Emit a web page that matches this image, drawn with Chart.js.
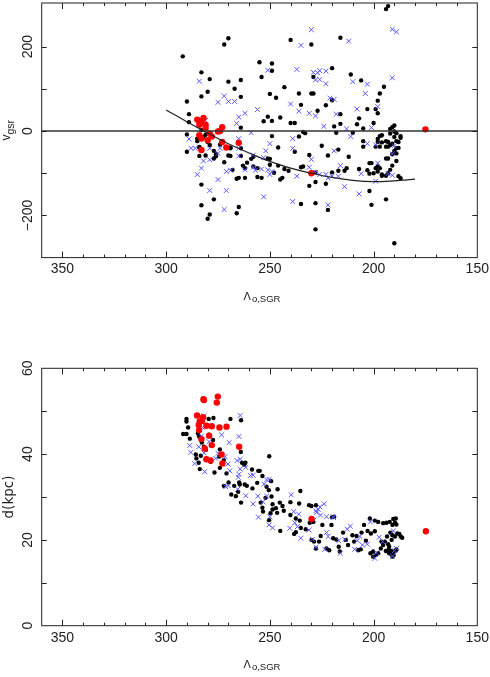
<!DOCTYPE html>
<html>
<head>
<meta charset="utf-8">
<script src="https://cdn.jsdelivr.net/npm/chart.js@4"></script>
<style>
  body { margin: 0; background: #fff; }
  canvas { position: absolute; left: 0; }
  #velChart { top: -2px; }
  #distChart { top: 340px; }
</style>
</head>
<body>
<canvas id="velChart" width="490" height="322"></canvas>
<canvas id="distChart" width="490" height="337"></canvas>
<script>
// [Lambda, v_gsr]
const velBlack = [
  [292,177],[290,70],[289,40],[289,21],[290,-8],[290,-49],[283,139],[279,123],[280,93],[283,82],
  [272,205],[270,220],[270,117],[267,100],[264,121],[264,81],[264,8],[243,104],[247,79],[240,216],
  [230,205],[255,163],[254,128],[249,160],[249,143],[250,88],[251,34],[249,24],[253,23],[245,32],
  [236,89],[235,62],[238,19],[240,19],[230,89],[229,89],[229,128],[227,48],[223,61],[220,149],
  [216,221],[211,134],[206,120],[203,52],[195,105],[197,89],[198,72],[199,52],[200,19],[194,289],
  [193,296],[220,73],[216,40],[219,11],[216,17],[207,30],[208,16],[205,6],[218,-4],[233,-5],
  [236,-13],[249,-12],[198,42],[234,-2],
  [285,-24],[284,-39],[284,-59],[285,-18],[283,2],[281,-9],[282,-14],[280,-26],[281,-58],[277,-47],
  [277,-65],[279,-33],[283,-18],[274,-32],[276,-55],[270,-58],[272,-74],[269,-39],[269,-41],[268,-92],
  [266,-113],[265,-111],[264,-41],[264,-59],[263,-82],[262,-88],[262,-111],[259,-66],[256,-88],[256,-109],
  [254,-111],[251,-65],[250,-66],[250,-80],[248,-99],[246,-39],[246,-82],[245,-115],[244,-111],[241,-94],
  [235,-86],[231,-57],[228,-98],[228,-121],[231,-130],[225,-35],[222,-58],[223,-125],[220,-98],[217,-94],
  [217,-44],[212,-61],[213,-88],[210,-4],[207,-90],[205,-24],[205,-37],[203,-93],[202,-76],[201,-76],
  [202,-101],[200,-100],[202,-142],[201,-175],[198,-96],[197,-88],[196,-103],[194,-162],[190,-266],[199,-37],
  [198,-19],[197,-12],[196,-10],[198,-26],[196,-27],[197,-37],[194,-37],[193,-26],[192,5],[191,9],
  [190,13],[192,-6],[190,-14],[189,-24],[191,-30],[192,-33],[188,-26],[188,-40],[189,-41],[190,-47],
  [191,-55],[193,-65],[194,-65],[189,-71],[191,-82],[192,-92],[193,-100],[187,-16],[187,-12],[190,-1],
  [189,-5],[194,-24],[193,-37],[189,-53],[188,-107],[187,-112],
  [283,-127],[277,-162],[283,-176],[265,-180],[266,-195],[279,-198],[280,-208],[238,-49],[235,-173],[228,-171],
  [222,-187],[228,-233],[284,-38],[283,-45],[276,-60],[269,-59],[258,-61],[258,-84],[261,-75],[243,-90],
  [234,-84],[214,-94],[199,-88],[198,-84],[196,-106],[194,-106]
];
const velBlue = [
  [284,118],[281,25],[289,-19],[288,-41],[286,-41],[285,-103],[283,-88],[282,-71],[279,-68],[279,-41],
  [279,-141],[275,68],[272,83],[270,70],[267,70],[265,33],[262,42],[266,18],[275,-53],[274,-41],
  [275,-115],[271,-141],[272,-186],[271,-96],[269,-93],[265,-18],[265,-41],[265,-59],[262,-92],[259,-4],
  [258,-57],[258,-86],[257,-93],[256,51],[253,-63],[253,-156],[252,-47],[251,144],[251,-92],[250,-30],
  [250,-103],[240,64],[239,-18],[239,-41],[237,146],[236,47],[239,-167],[237,-107],[235,203],[230,240],
  [229,139],[228,121],[227,138],[226,143],[226,122],[231,42],[228,36],[230,-67],[231,-86],[228,-98],
  [226,-103],[223,112],[223,142],[224,11],[221,78],[219,75],[218,40],[219,-47],[223,-103],[222,-111],
  [220,-107],[217,-107],[222,-175],[214,-132],[212,213],[213,5],[211,-13],[216,-82],[210,117],[208,52],
  [206,-101],[207,-149],[204,89],[203,111],[203,-30],[201,8],[199,-33],[198,58],[198,-76],[199,-119],
  [191,241],[189,235],[191,126],[191,-105],[193,-101],[191,-54],[190,-35],[254,-90],[249,-96]
];
const velRed = [
  [285,27],[282,31],[284,23],[281,15],[281,7],[284,15],[283,20],[284,-10],[283,-18],[280,-22],
  [279,-6],[278,-13],[275,-1],[274,0],[273,9],[273,-26],[271,-39],[265,-28],[283,-45],[230,-100],
  [175,4]
];
// model track drawn across the upper panel
const modelCurve = [
  [300,50],[290,22],[280,-5],[270,-30],[260,-52],[250,-72],[240,-88],[230,-100],[220,-110],
  [210,-117],[200,-120],[190,-118],[180,-114]
];

// [Lambda, d(kpc)]
const distBlack = [
  [291.8,44.7],[290.2,48.2],[290.2,47.6],[289.4,46.2],[288.6,43.6],[290.2,44.7],[284.7,44.8],[284.1,44.1],
  [285.7,39.9],[285.4,39.0],[284.3,38.0],[283.8,36.5],[282.8,42.7],[281.8,41.7],[280.8,41.0],[283.3,39.6],
  [279.5,48.2],[277.2,48.4],[279.4,44.5],[277.4,43.3],[278.5,38.2],[276.7,35.7],[274.1,41.1],[274.5,39.4],
  [272.2,38.6],[274.1,36.8],[270.9,35.5],[269.0,48.2],[263.9,47.9],[264.0,40.5],[272.2,32.6],[269.9,33.4],
  [268.6,30.6],[267.2,32.6],[266.4,30.2],[265.3,31.2],[264.8,33.4],[264.5,32.9],[263.9,28.7],[263.4,38.0],
  [262.4,37.5],[261.8,38.0],[262.1,32.9],[261.1,32.6],[258.6,36.4],[255.6,36.1],[254.9,36.1],[253.6,34.9],
  [258.4,32.0],[256.1,33.3],[251.6,32.4],[250.5,31.6],[249.4,33.7],[254.4,28.7],[252.1,29.8],[253.6,27.5],
  [253.3,26.6],[249.2,30.1],[250.4,24.6],[249.7,26.2],[248.7,28.3],[248.7,27.1],[246.3,31.8],[247.1,27.4],
  [246.5,26.3],[245.2,28.7],[243.9,27.9],[243.3,26.8],[245.0,22.1],[250.3,39.5],[240.1,28.8],[240.1,25.8],
  [237.5,25.0],[238.3,21.4],[237.5,21.8],[235.3,31.4],[235.9,28.5],[235.6,24.5],[235.1,22.8],[232.7,22.5],
  [231.1,28.1],[230.0,27.9],[227.8,28.1],[230.8,24.0],[229.1,24.2],[229.9,20.0],[228.7,19.6],[227.8,18.0],
  [226.3,19.6],[224.7,23.5],[225.5,20.9],[220.3,23.5],[220.0,25.3],[219.0,25.4],[219.5,20.4],[222.7,18.0],
  [221.4,17.6],[218.0,20.1],[216.8,18.4],[216.3,17.3],[214.7,21.7],[213.4,20.0],[212.3,18.8],[210.2,21.1],
  [209.4,19.6],[208.2,20.9],[207.4,17.6],[206.2,17.8],[204.6,23.5],[205.8,21.7],[203.7,19.8],[201.8,25.0],
  [199.4,24.5],[197.8,24.2],[202.9,22.1],[201.3,21.5],[199.4,22.0],[201.5,16.9],[200.2,16.1],[198.9,16.5],
  [197.8,16.9],[200.2,17.3],[195.4,23.9],[193.8,24.0],[192.2,24.2],[190.5,24.9],[189.3,25.0],[189.7,24.0],
  [190.9,23.5],[189.0,23.6],[196.2,19.6],[194.6,19.6],[193.5,20.8],[193.0,19.0],[192.5,18.4],[191.3,20.0],
  [189.7,20.8],[188.6,21.5],[187.6,21.4],[186.9,20.8],[186.2,20.5],[191.9,21.7],[190.9,21.1],[194.1,17.4],
  [193.0,17.6],[191.9,17.5],[190.6,17.3],[189.3,17.5],[190.3,16.5],[191.4,16.7],[189.0,17.8],[192.5,16.9],
  [190.9,16.1],[196.5,18.0],[195.4,18.8]
];
const distBlue = [
  [288.6,42.0],[288.1,40.4],[286.2,37.8],[284.3,41.7],[281.8,48.9],[282.5,46.2],[283.0,44.2],[281.8,40.3],
  [279.3,42.9],[281.4,35.9],[276.1,39.0],[275.0,40.2],[273.3,44.5],[269.6,42.7],[271.6,39.4],[270.2,37.7],
  [271.3,32.4],[270.0,32.6],[269.3,36.1],[265.8,38.5],[264.9,44.1],[264.3,49.0],[264.3,38.8],[264.3,36.5],
  [264.9,35.3],[265.2,34.6],[265.5,31.8],[261.6,36.9],[261.6,30.3],[259.4,35.0],[258.1,35.1],[258.1,28.4],
  [255.5,25.3],[255.8,30.2],[253.3,28.9],[252.8,33.0],[251.6,34.0],[250.4,34.1],[251.6,30.2],[250.0,25.4],
  [250.4,23.5],[248.7,22.8],[239.7,30.5],[238.5,26.6],[240.4,22.7],[238.0,24.0],[236.7,23.1],[236.1,26.0],
  [235.1,20.4],[231.1,22.3],[229.5,20.1],[228.8,24.6],[227.8,26.8],[227.5,26.4],[226.7,27.1],[225.9,27.7],
  [223.8,28.4],[225.6,25.8],[227.8,18.3],[223.5,17.8],[222.7,25.4],[222.7,21.7],[221.9,20.8],[219.6,25.4],
  [219.3,25.2],[216.8,19.8],[216.0,16.9],[213.8,20.1],[212.7,22.5],[211.2,23.2],[209.1,17.8],[207.8,19.8],
  [206.6,20.8],[205.4,18.8],[203.0,19.0],[201.5,24.2],[199.4,15.7],[198.6,17.0],[197.3,20.6],[195.7,19.6],
  [190.5,22.1],[190.0,17.5],[189.0,18.0],[190.9,16.2]
];
const distRed = [
  [285.1,49.0],[282.0,52.8],[281.8,52.6],[275.1,53.4],[275.6,52.0],[284.3,46.8],[283.8,47.6],[282.8,47.7],
  [282.2,48.6],[284.1,45.6],[283.0,43.5],[280.6,46.6],[278.0,46.5],[274.3,46.2],[270.9,46.4],[279.3,44.3],
  [278.0,42.1],[281.4,41.3],[280.6,38.8],[278.6,38.5],[273.3,39.9],[272.9,37.8],[264.8,41.7],[229.9,24.9],
  [174.8,22.0]
];

const xLabels = [350, 300, 250, 200, 150];
const velTicks = [-200, -100, 0, 100, 200];
const velLabels = [-200, 0, 200];
const distTicks = [10, 20, 30, 40, 50];
const distLabels = [0, 20, 40, 60];

const BLUE = "#5656ff";
const INK = "#222";

const toXY = (pts) => pts.map(([x, y]) => ({ x, y }));
const minus = (v) => (v < 0 ? "\u2212" + Math.abs(v) : String(v));

function pointSet(pts, color, style, radius, order) {
  const cross = style === "crossRot";
  return {
    data: toXY(pts),
    pointStyle: style,
    pointRadius: radius,
    pointBackgroundColor: color,
    pointBorderColor: color,
    pointBorderWidth: cross ? 1 : 0,
    order: order,
  };
}

function lineSet(pts, color, width, tension, order) {
  return {
    data: toXY(pts),
    showLine: true,
    borderColor: color,
    borderWidth: width,
    tension: tension,
    pointRadius: 0,
    order: order,
  };
}

// frame, inward ticks and axis text drawn from the chart's own scales
const axesPlugin = {
  id: "axesPlugin",
  afterDatasetsDraw(chart, args, opts) {
    const { ctx, chartArea: a, scales } = chart;
    const xs = scales.x, ys = scales.y;
    ctx.save();
    ctx.strokeStyle = INK;
    ctx.lineWidth = 1;
    ctx.strokeRect(a.left, a.top, a.right - a.left, a.bottom - a.top);

    ctx.beginPath();
    for (let v = 160; v <= 350; v += 10) {
      const px = Math.round(xs.getPixelForValue(v)) + 0.5;
      const len = v % 50 === 0 ? 6 : 3;
      ctx.moveTo(px, a.bottom);
      ctx.lineTo(px, a.bottom - len);
      ctx.moveTo(px, a.top);
      ctx.lineTo(px, a.top + len);
    }
    opts.yTicks.forEach((v) => {
      const py = Math.round(ys.getPixelForValue(v)) + 0.5;
      ctx.moveTo(a.left, py);
      ctx.lineTo(a.left + 5, py);
      ctx.moveTo(a.right, py);
      ctx.lineTo(a.right - 5, py);
    });
    ctx.stroke();

    ctx.fillStyle = INK;
    ctx.font = "14px 'Liberation Sans'";
    ctx.textAlign = "center";
    ctx.textBaseline = "middle";
    xLabels.forEach((v) => {
      ctx.fillText(String(v), xs.getPixelForValue(v), a.bottom + 12);
    });
    opts.yLabels.forEach((v) => {
      ctx.save();
      ctx.translate(28, ys.getPixelForValue(v));
      ctx.rotate(-Math.PI / 2);
      ctx.fillText(minus(v), 0, 0);
      ctx.restore();
    });

    // y title, rotated, with optional subscript
    ctx.textAlign = "left";
    ctx.textBaseline = "alphabetic";
    ctx.save();
    ctx.translate(opts.yTitleX, (a.top + a.bottom) / 2);
    ctx.rotate(-Math.PI / 2);
    ctx.font = opts.yFont;
    const w1 = ctx.measureText(opts.yTitle).width;
    ctx.font = opts.ySubFont;
    const w2 = opts.ySub ? ctx.measureText(opts.ySub).width : 0;
    const start = -(w1 + w2) / 2;
    ctx.font = opts.yFont;
    ctx.fillText(opts.yTitle, start, 0);
    if (opts.ySub) {
      ctx.font = opts.ySubFont;
      ctx.fillText(opts.ySub, start + w1, 4);
    }
    ctx.restore();

    // x title: Lambda with subscript
    ctx.font = "11px 'Liberation Sans'";
    const lw = ctx.measureText("\u039b").width;
    ctx.font = "9.5px 'Liberation Sans'";
    const sw = ctx.measureText("o,SGR").width;
    const x0 = 262 - (lw + sw + 1) / 2;
    const base = a.bottom + 42;
    ctx.font = "11px 'Liberation Sans'";
    ctx.fillText("\u039b", x0, base);
    ctx.font = "9.5px 'Liberation Sans'";
    ctx.fillText("o,SGR", x0 + lw + 1, base + 2);
    ctx.restore();
  },
};

function makeChart(id, datasets, yMin, yMax, padding, axesOpts) {
  return new Chart(document.getElementById(id), {
    type: "scatter",
    data: { datasets: datasets },
    options: {
      responsive: false,
      animation: false,
      devicePixelRatio: 1,
      layout: { padding: padding },
      scales: {
        x: { type: "linear", min: 150, max: 360, reverse: true, display: false },
        y: { type: "linear", min: yMin, max: yMax, display: false },
      },
      plugins: {
        legend: { display: false },
        tooltip: { enabled: false },
        axesPlugin: axesOpts,
      },
    },
    plugins: [axesPlugin],
  });
}

makeChart(
  "velChart",
  [
    lineSet([[360, 0], [150, 0]], "#333", 1.4, 0, 1),
    lineSet(modelCurve, "#222", 1.2, 0.4, 2),
    pointSet(velRed, "#ff0000", "circle", 3.2, 3),
    pointSet(velBlue, BLUE, "crossRot", 3.4, 4),
    pointSet(velBlack, "#000", "circle", 2.2, 5),
  ],
  -300, 303.4,
  { left: 41.7, right: 12.7, top: 1, bottom: 62.4 },
  {
    yTicks: velTicks, yLabels: velLabels,
    yTitle: "v", ySub: "gsr", yTitleX: 10,
    yFont: "12px 'Liberation Sans'", ySubFont: "10.5px 'Liberation Sans'",
  }
);

makeChart(
  "distChart",
  [
    pointSet(distRed, "#ff0000", "circle", 3.2, 1),
    pointSet(distBlue, BLUE, "crossRot", 3.4, 2),
    pointSet(distBlack, "#000", "circle", 2.2, 3),
  ],
  0, 60,
  { left: 41.7, right: 12.7, top: 28.3, bottom: 51.3 },
  {
    yTicks: distTicks, yLabels: distLabels,
    yTitle: "d(kpc)", ySub: "", yTitleX: 13,
    yFont: "13.5px 'DejaVu Sans'", ySubFont: "10px 'DejaVu Sans'",
  }
);
</script>
</body>
</html>
